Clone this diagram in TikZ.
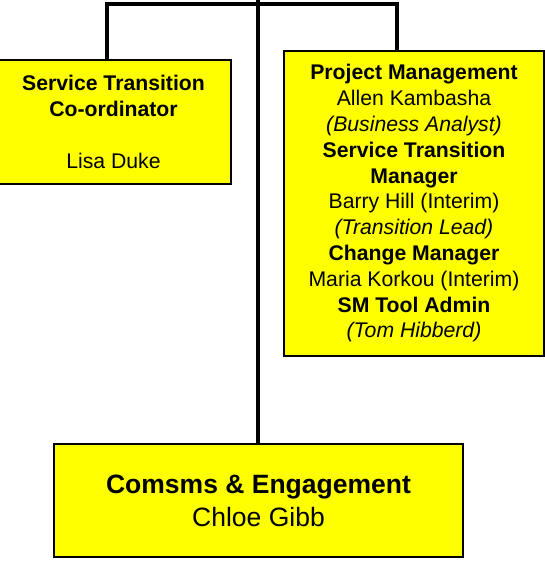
\documentclass[tikz,border=0pt]{standalone}
\usepackage{fontspec}
\setmainfont{Liberation Sans}
\definecolor{boxyellow}{RGB}{255,255,0}
\begin{document}
\begin{tikzpicture}[x=1pt,y=-1pt,
  orgbox/.style={draw=black, line width=2pt, fill=boxyellow, align=center, inner sep=0pt, text=black},
  smalltxt/.style={font=\fontsize{21.2}{25.8}\selectfont},
  bigtxt/.style={font=\fontsize{26.5}{33}\selectfont},
  conn/.style={draw=black, line width=3.2pt, line cap=rect, line join=miter}]
\useasboundingbox (0,0) rectangle (545,564);
\fill[white] (0,0) rectangle (545,564);
\node[orgbox, smalltxt, minimum width=235pt, minimum height=124pt] (coord) at (113.5,122)
  {\textbf{Service Transition}\\\textbf{Co-ordinator}\\~\\Lisa Duke};
\node[orgbox, smalltxt, minimum width=260pt, minimum height=305pt] (pm) at (414,203.5)
  {\textbf{Project Management}\\Allen Kambasha\\\textit{(Business Analyst)}\\\textbf{Service Transition}\\\textbf{Manager}\\Barry Hill (Interim)\\\textit{(Transition Lead)}\\\textbf{Change Manager}\\Maria Korkou (Interim)\\\textbf{SM Tool Admin}\\\textit{(Tom Hibberd)}};
\node[orgbox, bigtxt, minimum width=409pt, minimum height=113pt] (comms) at (258.5,500.5)
  {\textbf{Comsms \& Engagement}\\Chloe Gibb};
\coordinate (top) at (258,-2);
\coordinate (lj) at (107,4);
\coordinate (rj) at (397,4);
\draw[conn] (lj |- coord.north) -- (lj) -- (rj) -- (rj |- pm.north);
\draw[conn, line cap=butt] (top) -- (top |- comms.north);
\end{tikzpicture}
\end{document}
